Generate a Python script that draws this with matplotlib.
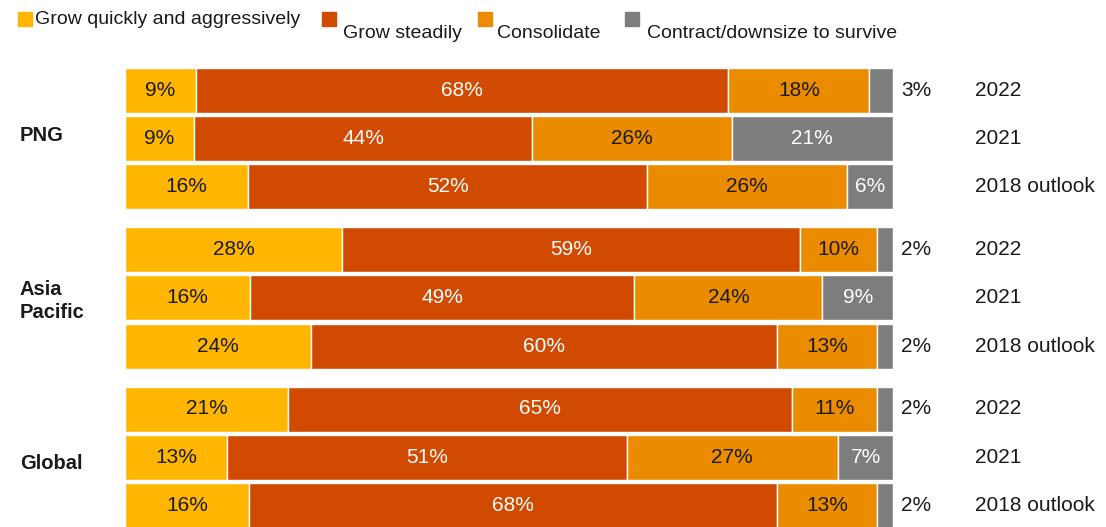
import matplotlib.pyplot as plt

plt.rcParams['font.family'] = ['Liberation Sans', 'DejaVu Sans']

series = ['Grow quickly and aggressively', 'Grow steadily', 'Consolidate',
          'Contract/downsize to survive']
colors = ['#FFB600', '#D04A02', '#EB8C00', '#7D7D7D']
text_colors = ['#1a1a1a', 'white', '#1a1a1a', 'white']

groups = ['PNG', 'Asia\nPacific', 'Global']
years = ['2022', '2021', '2018 outlook']

grow_fast = [9, 9, 16, 28, 16, 24, 21, 13, 16]
grow_steady = [68, 44, 52, 59, 49, 60, 65, 51, 68]
consolidate = [18, 26, 26, 10, 24, 13, 11, 27, 13]
contract = [3, 21, 6, 2, 9, 2, 2, 7, 2]

values = [grow_fast, grow_steady, consolidate, contract]
totals = [sum(v) for v in zip(*values)]

fig = plt.figure(figsize=(11.06, 5.27), dpi=100)
# overlay axes in pixel units for text / legend
ov = fig.add_axes([0, 0, 1, 1])
ov.set_xlim(0, 1106)
ov.set_ylim(527, 0)
ov.axis('off')

ax = fig.add_axes([125 / 1106, 0, 768 / 1106, 1])
ax.set_xlim(0, 100)
ax.set_ylim(527, 0)
ax.axis('off')

# row centres in pixels
ys = []
for g in range(len(groups)):
    for r in range(len(years)):
        ys.append(90 + g * 159.5 + r * 48.3)

left = [0] * len(ys)
for k, vals in enumerate(values):
    widths = [v / t * 100 for v, t in zip(vals, totals)]
    ax.barh(ys, widths, left=left, height=45, color=colors[k],
            edgecolor='white', linewidth=1)
    for i, v in enumerate(vals):
        if v <= 3:
            xpx = 125 + (left[i] + widths[i]) * 7.68 + 8
            ov.text(xpx, ys[i], f'{v}%', ha='left', va='center',
                    fontsize=15, color='#1a1a1a')
        else:
            ax.text(left[i] + widths[i] / 2, ys[i], f'{v}%', ha='center',
                    va='center', fontsize=15, color=text_colors[k])
    left = [a + b for a, b in zip(left, widths)]

# year labels
for i, y in enumerate(ys):
    ov.text(975, y, years[i % 3], ha='left', va='center', fontsize=15,
            color='#1a1a1a')

# group labels
offsets = [-3, 3, 6]
for g, name in enumerate(groups):
    ov.text(20, ys[g * 3 + 1] + offsets[g], name, ha='left',
            va='center', fontsize=14.5, fontweight='bold', color='#1a1a1a',
            linespacing=1.3)

# legend
leg_x = [18, 322, 478, 625]
txt_x = [35, 343, 497, 647]
txt_y = [20, 33, 33, 33]
for k in range(4):
    ov.add_patch(plt.Rectangle((leg_x[k], 12), 14, 14, color=colors[k]))
    ov.text(txt_x[k], txt_y[k], series[k], ha='left', va='center',
            fontsize=14, color='#1a1a1a')

fig.savefig('out.png', dpi=100)
